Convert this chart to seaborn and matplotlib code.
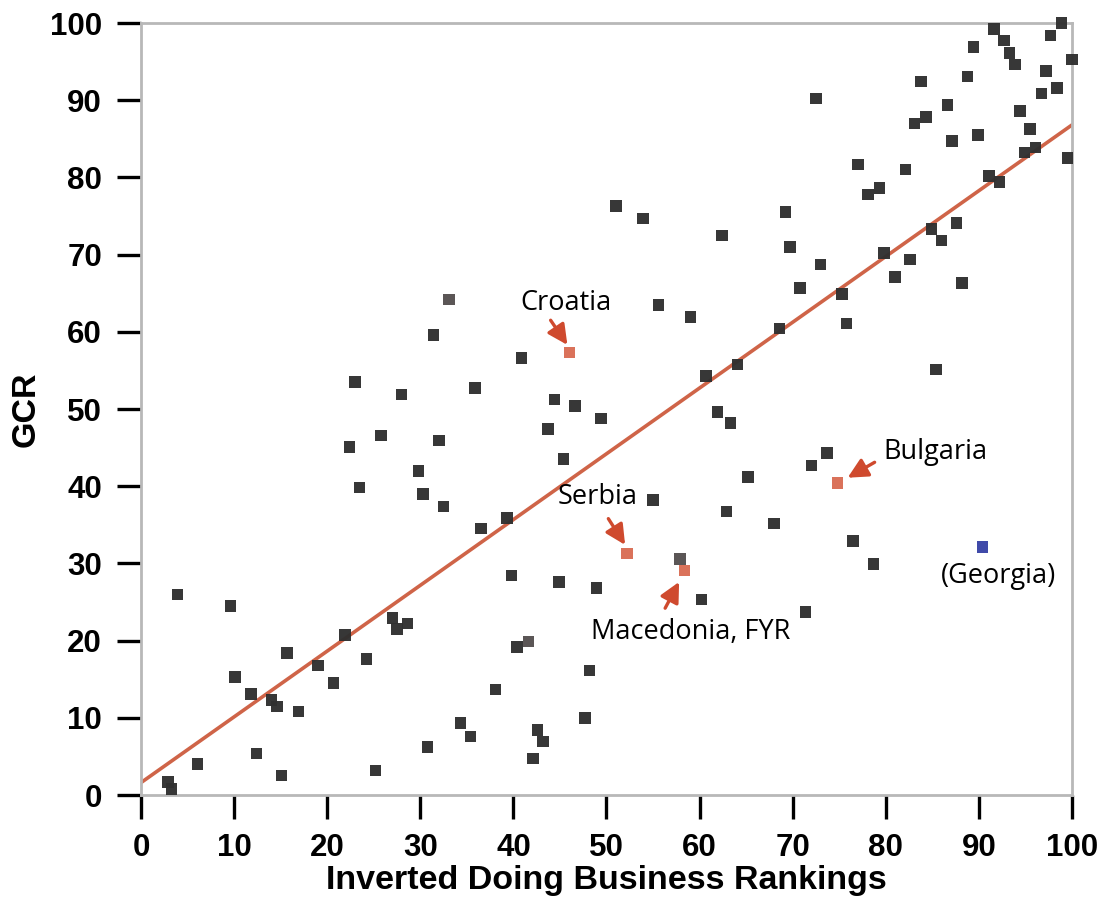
import numpy as np
import pandas as pd
import matplotlib
matplotlib.use("Agg")
import matplotlib.pyplot as plt
import seaborn as sns

# Inverted Doing Business ranking (x) and GCR score (y) for each country
biz_dark = [2.9, 3.3, 3.9, 6.1, 9.6, 10.1, 11.8, 12.4, 14.0, 14.6, 15.7, 15.1, 16.9, 19.0,
            20.7, 21.9, 22.4, 23.0, 23.5, 24.2, 25.2, 25.8, 27.0, 27.5, 28.0, 28.6, 29.8,
            30.3, 30.8, 31.4, 32.0, 32.5, 34.3, 35.4, 35.9, 36.5, 38.1, 39.3, 39.8, 40.4,
            40.9, 42.1, 42.6, 43.2, 43.7, 44.4, 44.9, 45.4, 46.6, 47.7, 48.2, 48.9, 49.4,
            51.0, 53.9, 55.0, 55.6, 59.0, 60.2, 60.7, 61.9, 62.4, 62.9, 63.3, 64.1, 65.2,
            68.0, 68.6, 69.2, 69.7, 70.8, 71.4, 72.0, 72.5, 73.0, 73.7, 75.3, 75.8, 76.5,
            77.0, 78.1, 78.7, 79.3, 79.8, 81.0, 82.1, 82.6, 83.1, 83.8, 84.3, 84.9, 85.4,
            86.0, 86.6, 87.1, 87.6, 88.2, 88.8, 89.4, 89.9, 91.1, 91.6, 92.2, 92.7, 93.3,
            93.9, 94.4, 94.9, 95.5, 96.1, 96.7, 97.2, 97.7, 98.4, 98.9, 99.5, 100.0]
gcr_dark = [1.7, 0.8, 26.0, 4.0, 24.5, 15.3, 13.1, 5.4, 12.3, 11.5, 18.4, 2.5, 10.8, 16.8,
            14.5, 20.7, 45.1, 53.5, 39.8, 17.6, 3.2, 46.6, 22.9, 21.5, 51.9, 22.2, 42.0,
            39.0, 6.2, 59.6, 45.9, 37.4, 9.3, 7.6, 52.7, 34.5, 13.7, 35.9, 28.4, 19.2,
            56.6, 4.7, 8.4, 6.9, 47.4, 51.2, 27.6, 43.5, 50.4, 10.0, 16.1, 26.8, 48.8,
            76.3, 74.7, 38.2, 63.5, 61.9, 25.3, 54.3, 49.6, 72.5, 36.7, 48.2, 55.8, 41.2,
            35.2, 60.4, 75.5, 71.0, 65.7, 23.7, 42.7, 90.2, 68.7, 44.3, 64.9, 61.1, 32.9,
            81.7, 77.8, 29.9, 78.6, 70.2, 67.1, 81.0, 69.4, 87.0, 92.4, 87.8, 73.3, 55.1,
            71.8, 89.4, 84.7, 74.1, 66.3, 93.1, 96.9, 85.5, 80.2, 99.2, 79.4, 97.7, 96.1,
            94.6, 88.6, 83.2, 86.3, 83.9, 90.9, 93.8, 98.4, 91.6, 100.0, 82.5, 95.3]

biz_grey = [33.1, 41.6, 57.9]
gcr_grey = [64.2, 19.9, 30.6]

balkan_names = ["Croatia", "Serbia", "Macedonia, FYR", "Bulgaria"]
biz_balkan = [46.0, 52.2, 58.4, 74.8]
gcr_balkan = [57.3, 31.3, 29.1, 40.4]

georgia_name = "(Georgia)"
biz_georgia = [90.4]
gcr_georgia = [32.1]

# Fitted trend line: GCR = intercept + slope * ranking
fit_intercept = 1.6
fit_slope = 0.852
fit_x = [0, 100]

x_ticks = list(range(0, 101, 10))
y_ticks = list(range(0, 101, 10))

df = pd.DataFrame({
    "biz": biz_dark + biz_grey + biz_balkan + biz_georgia,
    "gcr": gcr_dark + gcr_grey + gcr_balkan + gcr_georgia,
    "group": (["dark"] * len(biz_dark) + ["grey"] * len(biz_grey)
              + ["balkan"] * len(biz_balkan) + ["georgia"] * len(biz_georgia)),
})
palette = {"dark": "#303030", "grey": "#565050", "balkan": "#d96d55", "georgia": "#3a44a6"}

sns.set_theme(style="white")
plt.rcParams["font.family"] = ["Liberation Sans", "DejaVu Sans"]
plt.rcParams["text.color"] = "black"
plt.rcParams["axes.labelcolor"] = "black"
plt.rcParams["xtick.color"] = "black"
plt.rcParams["ytick.color"] = "black"

fig = plt.figure(figsize=(11.03, 9.06), dpi=100)
ax = fig.add_axes([0.1278, 0.1225, 0.8441, 0.8521])

line_color = "#cf6448"
fit_y = [fit_intercept + fit_slope * v for v in fit_x]
sns.lineplot(x=fit_x, y=fit_y, ax=ax, color=line_color, linewidth=2.6, zorder=2)

sns.scatterplot(data=df, x="biz", y="gcr", hue="group", palette=palette, marker="s",
                s=68, linewidth=0, alpha=0.97, legend=False, ax=ax, zorder=3, clip_on=False)

ax.set_xlim(0, 100)
ax.set_ylim(0, 100)
ax.set_xticks(x_ticks)
ax.set_yticks(y_ticks)
ax.set_xticklabels([str(t) for t in x_ticks])
ax.set_yticklabels([str(t) for t in y_ticks])

for s in ax.spines.values():
    s.set_color("#b8b8b8")
    s.set_linewidth(2.0)
    s.set_visible(True)

ax.tick_params(axis="both", which="major", direction="out", length=17, width=2.4,
               color="black", labelcolor="black", pad=11, labelsize=22.5,
               bottom=True, left=True)
ax.tick_params(axis="x", pad=10)
for lab in ax.get_xticklabels() + ax.get_yticklabels():
    lab.set_fontweight("bold")

ax.set_xlabel("Inverted Doing Business Rankings", fontsize=24.5, fontweight="bold",
              labelpad=2)
ax.set_ylabel("GCR", fontsize=24.5, fontweight="bold", labelpad=6)

# Country labels with arrows
note_font = dict(family=["Open Sans", "DejaVu Sans"], fontsize=19.5, color="black")
arrow_color = "#cf4a2e"
arrow_kw = dict(arrowstyle="-|>,head_length=1.0,head_width=0.5", color=arrow_color,
                lw=2.4, shrinkA=0, shrinkB=0)

label_pos = [(45.6, 63.7), (49.0, 38.6), (59.0, 21.1), (79.7, 44.4)]
label_ha = ["center", "center", "center", "left"]
arrow_tail = [(44.0, 61.5), (50.2, 35.8), (56.3, 24.2), (78.8, 43.1)]
arrow_head = [(45.8, 58.3), (52.0, 32.4), (57.8, 27.6), (75.9, 41.1)]

for name, pos, ha, tail, head in zip(balkan_names, label_pos, label_ha, arrow_tail, arrow_head):
    ax.text(pos[0], pos[1], name, ha=ha, va="center", **note_font)
    ax.annotate("", xy=head, xytext=tail, arrowprops=arrow_kw)

ax.text(92.1, 28.4, georgia_name, ha="center", va="center", **note_font)

fig.savefig("out.png", dpi=100)
